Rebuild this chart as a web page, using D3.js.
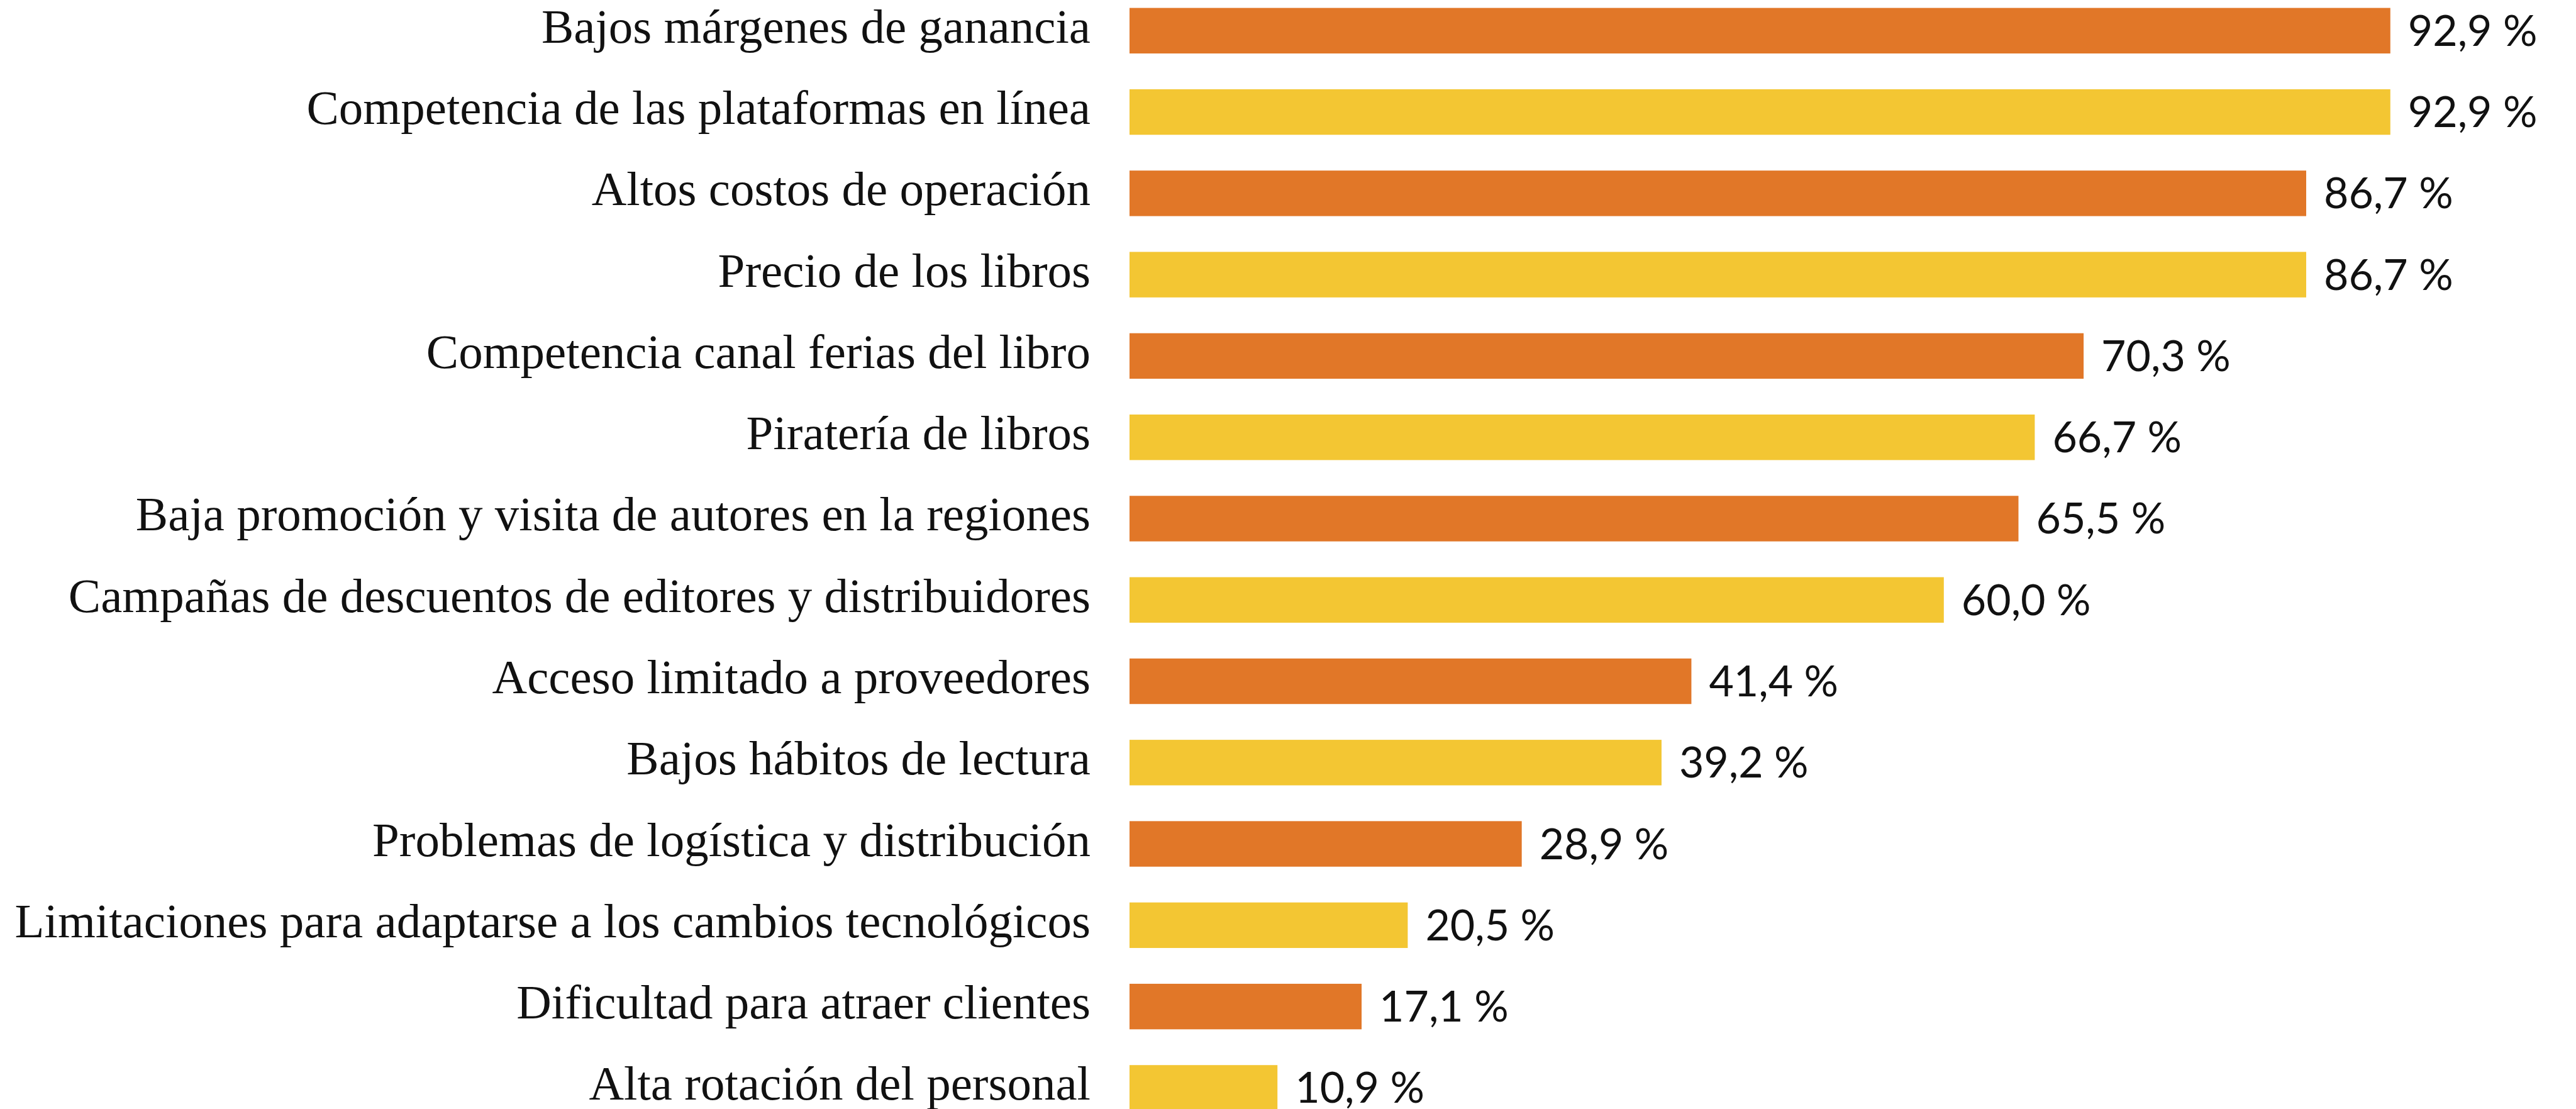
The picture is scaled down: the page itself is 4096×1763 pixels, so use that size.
<!DOCTYPE html>
<html>
<head>
<meta charset="utf-8">
<script src="https://cdn.jsdelivr.net/npm/d3@7"></script>
<style>
  html, body { margin: 0; padding: 0; background: #fff; }
  .label { font-family: "Liberation Serif", serif; font-size: 77px; fill: #111; }
  .value { font-family: Lato, sans-serif; font-size: 68px; fill: #111; }
</style>
</head>
<body>
<div id="chart"></div>
<script>
// chart data
var categories = [
  "Bajos márgenes de ganancia",
  "Competencia de las plataformas en línea",
  "Altos costos de operación",
  "Precio de los libros",
  "Competencia canal ferias del libro",
  "Piratería de libros",
  "Baja promoción y visita de autores en la regiones",
  "Campañas de descuentos de editores y distribuidores",
  "Acceso limitado a proveedores",
  "Bajos hábitos de lectura",
  "Problemas de logística y distribución",
  "Limitaciones para adaptarse a los cambios tecnológicos",
  "Dificultad para atraer clientes",
  "Alta rotación del personal"
];
var values = [92.9, 92.9, 86.7, 86.7, 70.3, 66.7, 65.5, 60.0, 41.4, 39.2, 28.9, 20.5, 17.1, 10.9];
var colors = ["#e17728", "#f3c633"];

var svgWidth = 4096;
var svgHeight = 1763;

var svg = d3.select("#chart")
  .append("svg")
  .attr("width", svgWidth)
  .attr("height", svgHeight);

// x scale: 0% at left edge of bars
var x = d3.scaleLinear()
  .domain([0, 100])
  .range([1796, 1796 + 2158]);

var y = d3.scaleBand()
  .domain(categories)
  .range([12.6, 1765.6])
  .paddingInner(0.44)
  .paddingOuter(0);

var rows = categories.map(function(c, i) {
  return { cat: c, val: values[i], idx: i };
});

// bars
svg.selectAll("rect.bar")
  .data(rows)
  .enter()
  .append("rect")
  .attr("class", "bar")
  .attr("x", x(0))
  .attr("y", d => y(d.cat))
  .attr("width", d => x(d.val) - x(0))
  .attr("height", y.bandwidth())
  .attr("fill", d => colors[d.idx % 2]);

// category labels
svg.selectAll("text.label")
  .data(rows)
  .enter()
  .append("text")
  .attr("class", "label")
  .attr("x", x(0) - 62)
  .attr("y", d => y(d.cat) + y.bandwidth() / 2 + 19)
  .attr("text-anchor", "end")
  .text(d => d.cat);

// value labels
var fmt = function(v) { return v.toFixed(1).replace(".", ",") + " %"; };

svg.selectAll("text.value")
  .data(rows)
  .enter()
  .append("text")
  .attr("class", "value")
  .attr("x", d => x(d.val) + 28)
  .attr("y", d => y(d.cat) + y.bandwidth() / 2 + 24)
  .text(d => fmt(d.val));
</script>
</body>
</html>
